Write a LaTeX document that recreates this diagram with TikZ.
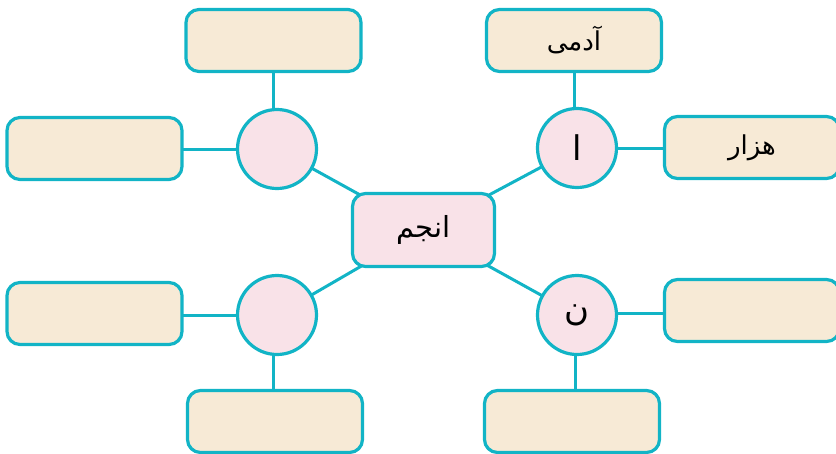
\documentclass[tikz,border=0pt]{standalone}
\usepackage{fontspec}
\TeXXeTstate=1
\newfontfamily\arabicfont[Script=Arabic]{DejaVu Sans}
\usetikzlibrary{backgrounds}
\definecolor{teal}{HTML}{12B4C6}
\definecolor{pinkfill}{HTML}{F9E2E8}
\definecolor{beigefill}{HTML}{F7EAD6}
\tikzset{
  linkbox/.style={draw=teal, line width=3.2pt, fill=beigefill, rounded corners=13pt,
    minimum width=175pt, minimum height=62pt, inner sep=0pt},
  hubbox/.style={draw=teal, line width=3.2pt, fill=pinkfill, rounded corners=13pt,
    minimum width=142pt, minimum height=73pt, inner sep=0pt},
  lettercircle/.style={draw=teal, line width=3.2pt, fill=pinkfill, circle,
    minimum size=79pt, inner sep=0pt},
  connector/.style={draw=teal, line width=3pt},
  fa/.style={font=\arabicfont\fontsize{26}{30}\selectfont},
  faletter/.style={font=\arabicfont\fontsize{34}{38}\selectfont},
  fabig/.style={font=\arabicfont\fontsize{29}{34}\selectfont}
}
\begin{document}
\begin{tikzpicture}[x=1pt,y=-1pt]
\useasboundingbox (0,0) rectangle (836,453);
\clip (0,0) rectangle (836,453);
% hub
\node[hubbox, fabig] (C) at (423.5,230) {\beginR انجم\endR};
% circles
\node[lettercircle] (UL) at (277,149) {};
\node[lettercircle] (LL) at (277,315) {};
\node[lettercircle, faletter] (UR) at (577,148) {\beginR ا\endR};
\node[lettercircle, faletter] (LR) at (577,315) {\beginR ن\endR};
% boxes
\node[linkbox] (TL) at (273.5,40.5) {};
\node[linkbox] (L1) at (94.5,148.5) {};
\node[linkbox] (L2) at (94.5,313.5) {};
\node[linkbox] (BL) at (275,421.5) {};
\node[linkbox, fa] (TR) at (574,40.5) {\beginR آدمی\endR};
\node[linkbox, fa] (R1) at (752,147.5) {\beginR هزار\endR};
\node[linkbox] (R2) at (752,310.5) {};
\node[linkbox] (BR) at (572,421.5) {};
\begin{scope}[on background layer]
  \draw[connector] (C.center) -- (UL.center);
  \draw[connector] (C.center) -- (LL.center);
  \draw[connector] (C.center) -- (UR.center);
  \draw[connector] (C.center) -- (LR.center);
  \draw[connector] (TL.center) -- (TL.center |- UL.center);
  \draw[connector] (L1.center |- UL.center) -- (UL.center);
  \draw[connector] (L2.center |- LL.center) -- (LL.center);
  \path (BL.center) ++(-2,0) coordinate (blx);
  \draw[connector] (blx |- LL.center) -- (blx);
  \draw[connector] (TR.center) -- (TR.center |- UR.center);
  \draw[connector] (UR.center) -- (UR.center -| R1.center);
  \path (LR.center) ++(0,-2) coordinate (lry);
  \draw[connector] (lry) -- (lry -| R2.center);
  \path (BR.center) ++(3,0) coordinate (brx);
  \draw[connector] (brx |- LR.center) -- (brx);
\end{scope}
\end{tikzpicture}
\end{document}
